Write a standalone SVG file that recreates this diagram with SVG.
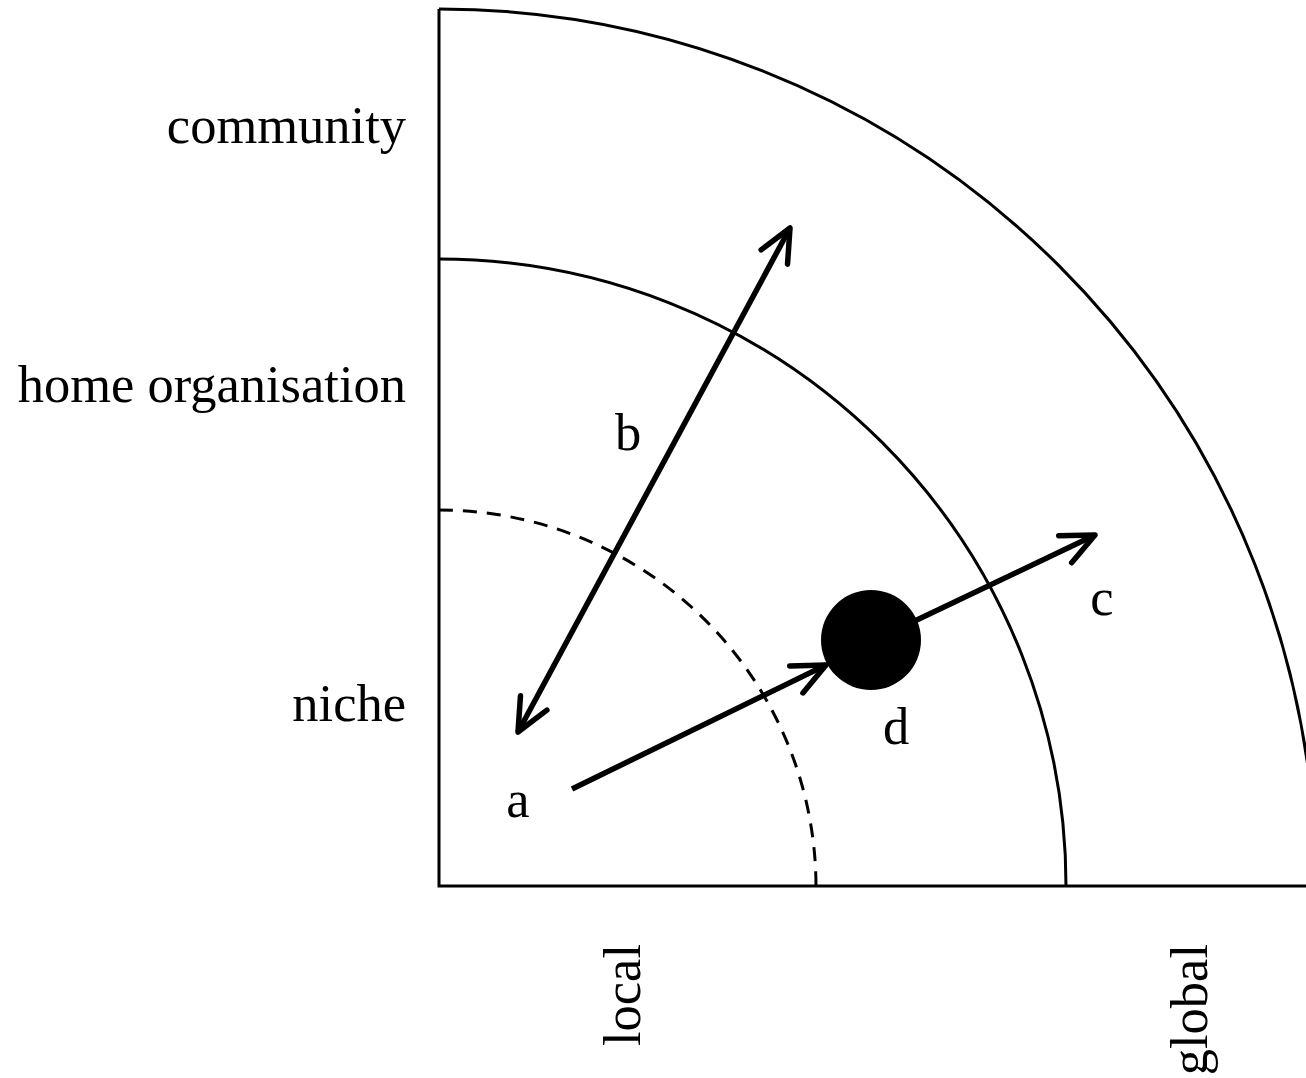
<svg xmlns="http://www.w3.org/2000/svg" width="1306" height="1078" viewBox="0 0 1306 1078">
<defs>
<style>
.lbl{font-family:"Liberation Serif","Times New Roman",serif;font-size:52.5px;fill:#000}
.arc{fill:none;stroke:#000;stroke-width:3}
.arr{fill:none;stroke:#000;stroke-width:5.5}
</style>
<marker id="ah" viewBox="-40 -20 44 40" refX="0" refY="0" markerWidth="44" markerHeight="40" markerUnits="userSpaceOnUse" orient="auto-start-reverse" overflow="visible">
<path d="M -33,-15 L 0,0 L -33,15" fill="none" stroke="#000" stroke-width="5.5" stroke-linecap="round" stroke-linejoin="round"/>
</marker>
</defs>
<rect width="1306" height="1078" fill="#fff"/>
<g id="frame">
<path class="arc" d="M 439,9 A 877 877 0 0 1 1316,886"/>
<path class="arc" d="M 439,259 A 627 627 0 0 1 1066,886"/>
<path class="arc" d="M 439,510 A 377 377 0 0 1 816,886" stroke-dasharray="14,10"/>
<path class="arc" d="M 439,9 L 439,886 L 1306,886" stroke-width="3.5" stroke-linejoin="miter"/>
</g>
<g id="connectors">
<line class="arr" x1="518" y1="732" x2="790" y2="228" marker-start="url(#ah)" marker-end="url(#ah)"/>
<line class="arr" x1="572" y1="789" x2="826" y2="665" marker-end="url(#ah)"/>
<line class="arr" x1="900" y1="628" x2="1095" y2="535" marker-end="url(#ah)"/>
</g>
<g id="node-d">
<circle cx="871" cy="640" r="50" fill="#000"/>
<text class="lbl" x="896" y="744" text-anchor="middle">d</text>
</g>
<g id="labels">
<text class="lbl" x="406" y="143" text-anchor="end">community</text>
<text class="lbl" x="406" y="402" text-anchor="end">home organisation</text>
<text class="lbl" x="406" y="721" text-anchor="end">niche</text>
<text class="lbl" x="628" y="450" text-anchor="middle">b</text>
<text class="lbl" x="518" y="817" text-anchor="middle">a</text>
<text class="lbl" x="1102" y="615" text-anchor="middle">c</text>
<text class="lbl" transform="translate(640,944) rotate(-90)" text-anchor="end">local</text>
<text class="lbl" transform="translate(1207,944) rotate(-90)" text-anchor="end">global</text>
</g>
</svg>
